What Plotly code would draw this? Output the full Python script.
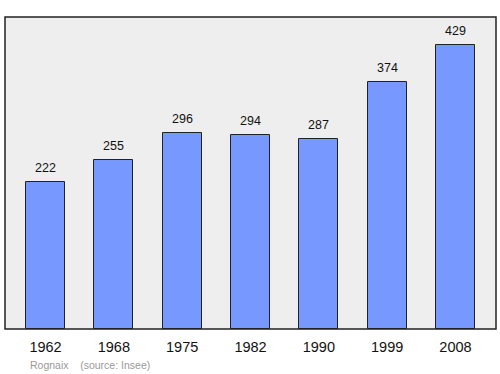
import plotly.graph_objects as go

years = ["1962", "1968", "1975", "1982", "1990", "1999", "2008"]
population = [222, 255, 296, 294, 287, 374, 429]
commune = "Rognaix"
source = "(source: Insee)"

fig = go.Figure()
fig.add_trace(go.Bar(
    x=list(range(len(years))), y=population,
    width=0.57,
    marker=dict(color="#7799ff", line=dict(color="#222222", width=1)),
    hoverinfo="skip",
))

for i, v in enumerate(population):
    fig.add_annotation(x=i, y=v, text=str(v), showarrow=False,
                       yanchor="bottom", yshift=5,
                       font=dict(family="Liberation Sans, Arial, sans-serif", size=12.5, color="#111111"))

fig.add_annotation(xref="paper", yref="paper", x=0.046, y=-0.09, xanchor="left", yanchor="top",
                   text=commune + "&nbsp;&nbsp;&nbsp;&nbsp;" + source, showarrow=False,
                   font=dict(family="Liberation Sans, Arial, sans-serif", size=10.5, color="#999999"))

fig.add_shape(type="rect", xref="paper", yref="paper", x0=0, x1=1, y0=0, y1=1,
              line=dict(color="#222222", width=1.5), fillcolor="rgba(0,0,0,0)", layer="above")

fig.update_layout(
    width=500, height=374,
    margin=dict(l=5, r=4, t=17, b=45),
    paper_bgcolor="white", plot_bgcolor="#eeeeee",
    showlegend=False,
    bargap=0,
    xaxis=dict(range=[-0.593, 6.593], tickmode="array", tickvals=list(range(len(years))),
               ticktext=years, showgrid=False, zeroline=False, ticks="",
               ticklabelstandoff=7,
               tickfont=dict(family="Liberation Sans, Arial, sans-serif", size=14.5, color="#111111")),
    yaxis=dict(range=[0, 472], showgrid=False, zeroline=False, showticklabels=False, ticks=""),
)

fig.write_html("out.html")
